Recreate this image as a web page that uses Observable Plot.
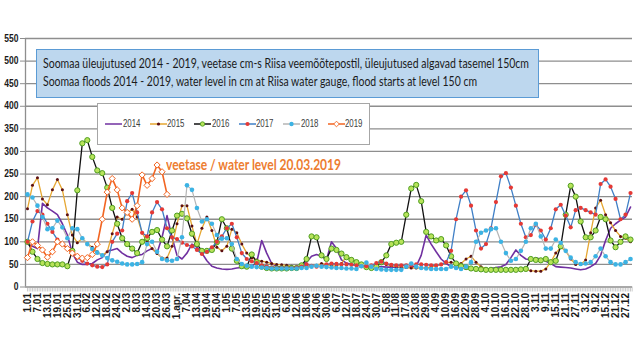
<!DOCTYPE html>
<html><head><meta charset="utf-8">
<script src="https://cdn.jsdelivr.net/npm/d3@7"></script>
<script src="https://cdn.jsdelivr.net/npm/@observablehq/plot@0.6"></script>
<style>
body{margin:0;background:#fff;}
#wrap{position:relative;width:638px;height:359px;overflow:hidden;background:#fff;}
.fit{position:absolute;white-space:nowrap;display:inline-block;transform-origin:0 0;line-height:1;}
#titlebox{position:absolute;left:36px;top:49px;width:501px;height:47px;background:#bdd7ee;border:1px solid #5b9bd5;}
#legendbox{position:absolute;left:97px;top:103px;width:271px;height:40px;background:#fff;border:1px solid #a6a6a6;}
</style></head>
<body><div id="wrap"></div>
<script>
// ---- data (values read every 3 days, day 0 = 1 January) ----
const years = ["2014","2015","2016","2017","2018","2019"];
const stepDays = 3;
const v2014 = [95,90,85,185,175,168,160,140,115,75,
 55,50,50,52,60,65,80,82,85,75,
 68,65,70,72,80,85,75,110,158,110,
 70,62,75,95,88,75,58,46,42,40,
 39,40,42,43,43,45,55,103,75,52,
 46,44,43,43,44,46,55,68,72,68,
 60,100,85,60,53,50,48,47,46,46,
 45,45,44,44,44,43,43,44,46,70,
 115,95,78,62,52,45,43,42,41,40,
 40,40,40,41,43,45,50,65,82,70,
 62,60,64,62,57,52,45,44,43,42,
 40,38,40,45,52,70,103,130,140,148,
 155,177];
const v2015 = [173,225,242,195,182,215,238,215,160,115,
 98,108,96,88,78,70,78,118,155,150,
 163,172,155,120,100,85,74,64,64,90,
 140,180,180,135,95,130,155,125,88,80,
 90,128,120,95,75,65,60,57,55,52,
 50,49,48,46,45,45,45,46,48,52,
 50,47,46,52,68,62,56,50,46,45,
 47,57,50,47,45,44,43,42,42,42,
 43,44,47,50,54,55,52,52,62,68,
 55,45,40,38,38,38,38,38,38,39,
 38,36,35,35,40,55,75,88,80,62,
 50,50,60,120,175,192,160,142,125,112,
 108,100];
const v2016 = [100,78,62,53,51,50,50,50,46,80,
 214,318,325,288,258,252,220,175,140,108,
 95,85,75,100,108,122,126,105,90,125,
 158,162,152,118,95,80,80,82,99,150,
 130,85,58,46,45,72,55,45,42,41,
 41,41,41,42,42,48,62,112,110,70,
 62,85,82,74,66,60,55,50,44,42,
 45,55,70,95,98,100,160,218,226,190,
 122,112,103,106,92,68,52,46,44,41,
 40,39,38,38,38,38,38,38,38,39,
 40,62,60,59,62,55,58,90,160,224,
 200,145,110,110,125,155,150,103,88,100,
 112,105];
const v2017 = [100,145,168,160,140,122,105,95,85,75,
 65,58,52,48,45,44,50,100,118,125,
 190,208,165,120,112,165,188,172,130,110,
 106,98,93,90,82,73,78,88,100,112,
 130,140,110,75,62,57,53,48,45,43,
 42,42,42,42,43,45,50,47,45,46,
 50,52,51,50,50,49,48,46,46,48,
 53,56,52,49,48,48,48,48,50,50,
 49,48,48,50,55,80,150,200,214,180,
 125,85,95,130,188,245,252,220,180,140,
 110,115,138,125,105,130,172,182,158,132,
 170,175,170,165,160,228,238,222,195,150,
 160,208];
const v2018 = [205,198,180,155,128,130,147,132,108,130,
 128,108,95,84,76,70,64,59,56,52,
 50,50,51,55,95,100,78,62,59,58,
 62,110,225,215,175,145,150,140,115,107,
 108,95,62,51,47,45,44,43,42,41,
 41,41,41,41,41,42,42,45,47,45,
 44,43,42,42,41,41,40,46,54,45,
 40,39,38,38,38,38,45,52,45,42,
 41,40,40,40,40,45,42,40,45,55,
 100,120,125,128,130,100,75,58,62,80,
 100,130,140,112,85,85,105,98,80,65,
 55,51,52,55,68,85,68,55,50,50,
 55,62];
const v2019 = [65,100,92,82,66,78,100,95,85,75,
 68,64,65,72,95,150,210,240,215,175,
 165,150,180,248,225,240,270,255,205];

const tickDays = d3.range(0, 361, 6);
const tickLabels = ["1.01","7.01","13.01","19.01","25.01","31.01","6.02","12.02","18.02","24.02",
 "2.03","8.03","14.03","20.03","26.03","1.apr.","7.04","13.04","19.04","25.04",
 "1.05","7.05","13.05","19.05","25.05","31.05","6.06","12.06","18.06","24.06",
 "30.06","6.07","12.07","18.07","24.07","30.07","5.08","11.08","17.08","23.08",
 "29.08","4.09","10.09","16.09","22.09","28.09","4.10","10.10","16.10","22.10",
 "28.10","3.11","9.11","15.11","21.11","27.11","3.12","9.12","15.12","21.12","27.12"];
const yTicks = d3.range(0, 551, 50);
const allDays = d3.range(0, 365);

const titleLines = [
 "Soomaa üleujutused 2014 - 2019, veetase cm-s Riisa veemõõtepostil, üleujutused algavad tasemel 150cm",
 "Soomaa floods 2014 - 2019, water level in cm at Riisa water gauge, flood starts at level 150 cm"];
const noteText = "veetase / water level 20.03.2019";

// ---- styling per series ----
const valuesByYear = {"2014":v2014,"2015":v2015,"2016":v2016,"2017":v2017,"2018":v2018,"2019":v2019};
const styles = {
 "2014":{line:"#7030a0", lw:1.6, r:0},
 "2015":{line:"#e6a732", lw:1.3, r:1.5, fill:"#5c0f12", stroke:"none", symbol:"circle"},
 "2016":{line:"#111111", lw:1.3, r:2.6, fill:"#b8e35a", stroke:"#4f9e22", symbol:"circle"},
 "2017":{line:"#3f7fc6", lw:1.3, r:2.1, fill:"#e53935", stroke:"none", symbol:"circle"},
 "2018":{line:"#b5b5b5", lw:1.2, r:2.3, fill:"#3cb3e4", stroke:"none", symbol:"circle"},
 "2019":{line:"#f26522", lw:1.6, r:2.8, fill:"#fff", stroke:"#f26522", symbol:"diamond2"}
};

const FONT = "'Liberation Sans',Arial,sans-serif";
const x0 = -1.2, x1 = 364.2;
const labelOf = new Map(tickDays.map((d,i)=>[d, tickLabels[i]]));

const seriesMarks = [];
for (const y of years) {
  const rows = valuesByYear[y].map((v,i)=>({year:y, day:i*stepDays, value:v}));
  const s = styles[y];
  seriesMarks.push(Plot.line(rows, {x:"day", y:"value", stroke:s.line, strokeWidth:s.lw}));
  if (s.r > 0) seriesMarks.push(Plot.dot(rows, {x:"day", y:"value", r:s.r, fill:s.fill, stroke:s.stroke, strokeWidth:1, symbol:s.symbol}));
}

const chart = Plot.plot({
  width: 638, height: 359,
  marginLeft: 25, marginRight: 6, marginTop: 38, marginBottom: 72.5,
  x: {domain: [x0, x1]},
  y: {domain: [0, 550]},
  style: {fontFamily: FONT, fontSize: "10px", fontWeight: "bold", color: "#1a1a1a", background: "white"},
  marks: [
    Plot.ruleY(yTicks, {stroke: "#8e8e8e", strokeWidth: 1.3}),
    Plot.axisY({ticks: yTicks, tickSize: 5, tickPadding: 2, stroke: "#8e8e8e", strokeOpacity: 1, label: null}),
    Plot.ruleX([x0], {stroke: "#8e8e8e", strokeWidth: 1.3}),
    Plot.axisX({ticks: allDays, tickSize: 5, tickFormat: () => "", stroke: "#a8a8a8", strokeOpacity: 0.6, label: null}),
    Plot.axisX({ticks: tickDays, tickSize: 0, tickPadding: 6, tickRotate: -90, tickFormat: d => labelOf.get(d), label: null}),
    ...seriesMarks
  ]
});
const wrap = document.getElementById("wrap");
wrap.appendChild(chart);
// narrow the y tick labels horizontally (reference glyphs are condensed)
chart.querySelectorAll('g[aria-label="y-axis tick label"] text').forEach(t => {
  const tr = t.getAttribute("transform");
  if (tr) t.setAttribute("transform", tr + " scale(0.85,1)");
});

// ---- title box ----
const tb = document.createElement("div"); tb.id = "titlebox"; wrap.appendChild(tb);
function fitText(text, left, top, width, css) {
  const s = document.createElement("span");
  s.className = "fit"; s.textContent = text;
  s.style.left = left + "px"; s.style.top = top + "px";
  Object.assign(s.style, css);
  wrap.appendChild(s);
  const w = s.getBoundingClientRect().width;
  s.style.transform = `scaleX(${width / w})`;
  return s;
}
fitText(titleLines[0], 42.7, 56.2, 486, {fontFamily:"Lato, 'Open Sans', sans-serif", fontSize:"14px", color:"#1b1b1b"});
fitText(titleLines[1], 42.7, 73.9, 434, {fontFamily:"Lato, 'Open Sans', sans-serif", fontSize:"14px", color:"#1b1b1b"});
fitText(noteText, 166, 157.5, 175, {fontFamily:"Lato, 'Open Sans', sans-serif", fontSize:"14.5px", fontWeight:"bold", color:"#ed7d31"});

// ---- legend ----
const lb = document.createElement("div"); lb.id = "legendbox"; wrap.appendChild(lb);
years.forEach((y, i) => {
  const s = styles[y];
  const lx = 105 + 44.5 * i;
  const ns = "http://www.w3.org/2000/svg";
  const sv = document.createElementNS(ns, "svg");
  sv.setAttribute("width", 18); sv.setAttribute("height", 8);
  sv.style.position = "absolute"; sv.style.left = lx + "px"; sv.style.top = "119.5px";
  const ln = document.createElementNS(ns, "line");
  ln.setAttribute("x1", 0); ln.setAttribute("x2", 17); ln.setAttribute("y1", 4); ln.setAttribute("y2", 4);
  ln.setAttribute("stroke", s.line); ln.setAttribute("stroke-width", 1.5);
  sv.appendChild(ln);
  if (s.r > 0) {
    let m;
    if (s.symbol === "diamond2") {
      m = document.createElementNS(ns, "path");
      m.setAttribute("d", "M8.5,1.2L11.3,4L8.5,6.8L5.7,4Z");
    } else {
      m = document.createElementNS(ns, "circle");
      m.setAttribute("cx", 8.5); m.setAttribute("cy", 4); m.setAttribute("r", Math.min(Math.max(s.r, 1.6), 2.2));
    }
    m.setAttribute("fill", s.fill); m.setAttribute("stroke", s.stroke === "none" ? "none" : s.stroke);
    m.setAttribute("stroke-width", 0.9);
    sv.appendChild(m);
  }
  wrap.appendChild(sv);
  fitText(y, lx + 17.5, 118.6, 17.5, {fontFamily: "'Liberation Sans',Arial,sans-serif", fontSize:"10px", color:"#404040"});
});
</script>
</body></html>
